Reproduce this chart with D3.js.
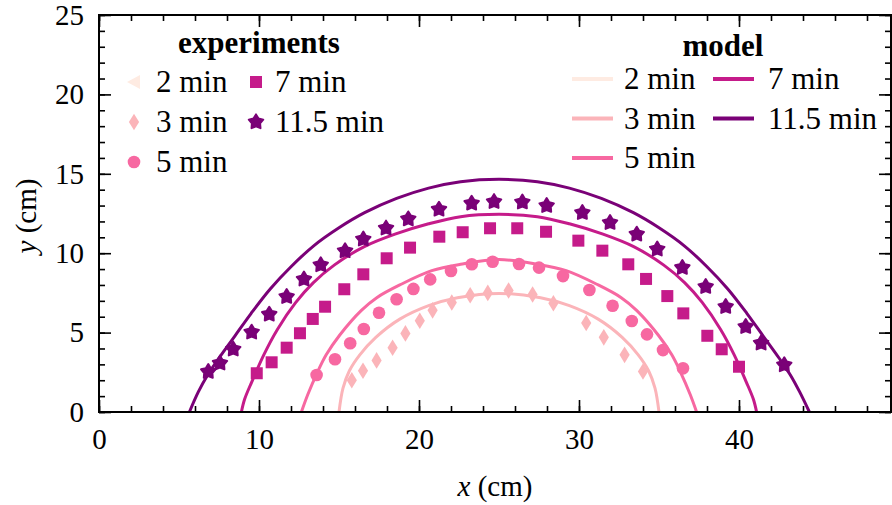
<!DOCTYPE html>
<html>
<head>
<meta charset="utf-8">
<script src="https://cdn.jsdelivr.net/npm/d3@7"></script>
<style>
  body { margin: 0; background: #fff; }
  svg text { font-family: "Liberation Serif", "Times New Roman", serif; fill: #000; }
</style>
</head>
<body>
<svg id="chart" width="892" height="505"></svg>
<script>
// legend / series labels and colours
var times = ['2 min', '3 min', '5 min', '7 min', '11.5 min'];
var colors = ['#feebe2', '#fbb4b9', '#f768a1', '#c51b8a', '#7a0177'];
var xTicks = [0, 10, 20, 30, 40];
var yTicks = [0, 5, 10, 15, 20, 25];

// experiments (2 min has no points in the plot)
var exp3X = [15.8, 16.5, 17.35, 18.35, 19.15, 20.05, 20.85, 22.05, 23.2, 24.3, 25.6, 27.1, 28.4, 30.45, 31.55, 32.85, 34.0];
var exp3Y = [2.0, 2.6, 3.25, 4.05, 4.95, 5.75, 6.4, 6.9, 7.35, 7.5, 7.65, 7.4, 6.85, 5.6, 4.7, 3.6, 2.55];
var exp5X = [13.6, 14.75, 15.7, 16.55, 17.5, 18.6, 19.65, 20.7, 22.0, 23.3, 24.6, 26.25, 27.5, 29.0, 30.65, 32.1, 33.3, 34.25, 35.25, 36.5];
var exp5Y = [2.33, 3.32, 4.33, 5.23, 6.25, 7.1, 7.75, 8.35, 8.88, 9.3, 9.46, 9.32, 9.09, 8.56, 7.68, 6.69, 5.73, 4.89, 3.9, 2.75];
var exp7X = [9.86, 10.79, 11.73, 12.56, 13.36, 14.13, 15.33, 16.52, 17.98, 19.44, 21.27, 22.73, 24.44, 26.14, 27.94, 29.96, 31.46, 33.08, 34.19, 35.52, 36.52, 38.02, 38.92, 40.0];
var exp7Y = [2.44, 3.13, 4.05, 4.96, 5.86, 6.63, 7.73, 8.67, 9.68, 10.35, 11.04, 11.32, 11.57, 11.57, 11.35, 10.79, 10.16, 9.3, 8.38, 7.3, 6.21, 4.8, 3.95, 2.85];
var exp11X = [6.83, 7.56, 8.39, 9.54, 10.64, 11.73, 12.81, 13.86, 15.38, 16.52, 17.94, 19.33, 21.25, 23.29, 24.69, 26.46, 27.98, 30.21, 31.94, 33.61, 34.89, 36.46, 37.92, 39.17, 40.42, 41.38, 42.83];
var exp11Y = [2.54, 3.07, 3.95, 5.02, 6.15, 7.26, 8.36, 9.26, 10.14, 10.88, 11.57, 12.15, 12.76, 13.14, 13.24, 13.21, 12.99, 12.55, 11.92, 11.19, 10.25, 9.09, 7.89, 6.63, 5.37, 4.33, 2.96];

// model curves
var mod3X = [15.0, 15.25, 15.65, 16.3, 17.3, 18.8, 20.6, 22.4, 25.0, 27.6, 29.4, 31.2, 32.7, 33.7, 34.35, 34.75, 35.0];
var mod3Y = [0, 1.5, 2.6, 3.6, 4.7, 5.85, 6.7, 7.2, 7.47, 7.2, 6.7, 5.85, 4.7, 3.6, 2.6, 1.5, 0];
var mod5X = [12.65, 13.05, 13.65, 14.2, 15.05, 16.4, 17.36, 18.8, 20.8, 22.6, 25.0, 27.4, 29.2, 31.2, 32.64, 33.6, 34.95, 35.8, 36.35, 36.95, 37.35];
var mod5Y = [0, 1.1, 2.5, 3.6, 4.85, 6.4, 7.2, 8.0, 8.9, 9.3, 9.6, 9.3, 8.9, 8.0, 7.2, 6.4, 4.85, 3.6, 2.5, 1.1, 0];
var mod7X = [8.9, 9.1, 9.55, 10.3, 11.15, 12.3, 13.4, 14.7, 16.55, 18.5, 20.6, 22.6, 25.0, 27.4, 29.4, 31.5, 33.45, 35.3, 36.6, 37.7, 38.85, 39.7, 40.45, 40.9, 41.1];
var mod7Y = [0, 0.8, 1.9, 3.6, 5.2, 6.9, 8.15, 9.25, 10.4, 11.2, 11.85, 12.3, 12.45, 12.3, 11.85, 11.2, 10.4, 9.25, 8.15, 6.9, 5.2, 3.6, 1.9, 0.8, 0];
var mod11X = [5.65, 6.2, 6.8, 7.5, 8.5, 9.5, 10.7, 12.0, 13.4, 15.0, 16.6, 18.6, 20.6, 22.6, 25.0, 27.4, 29.4, 31.4, 33.4, 35.0, 36.6, 38.0, 39.3, 40.5, 41.5, 42.5, 43.2, 43.8, 44.4];
var mod11Y = [0, 1.25, 2.35, 3.4, 4.8, 6.2, 7.75, 9.15, 10.45, 11.6, 12.55, 13.45, 14.1, 14.5, 14.65, 14.5, 14.1, 13.45, 12.55, 11.6, 10.45, 9.15, 7.75, 6.2, 4.8, 3.4, 2.35, 1.25, 0];

var svg = d3.select('#chart');
var pl = 99, pr = 891, pt = 15, pb = 412;

var x = d3.scaleLinear().domain([0, 49.5]).range([pl, pr]);
var y = d3.scaleLinear().domain([0, 25]).range([pb, pt]);

function zip(xs, ys) {
	return xs.map(function(v, i){ return [v, ys[i]]; });
}

// model lines
var line = d3.line()
	.x(function(d){ return x(d[0]); })
	.y(function(d){ return y(d[1]); })
	.curve(d3.curveCatmullRom.alpha(0.5));

var models = [
	{c: colors[1], pts: zip(mod3X, mod3Y)},
	{c: colors[2], pts: zip(mod5X, mod5Y)},
	{c: colors[3], pts: zip(mod7X, mod7Y)},
	{c: colors[4], pts: zip(mod11X, mod11Y)}
];
models.forEach(function(m){
	svg.append('path')
		.attr('d', line(m.pts))
		.attr('fill', 'none')
		.attr('stroke', m.c)
		.attr('stroke-width', 3);
});

// a fat five-pointed star, point up
function fatStar(R, r) {
	var p = d3.range(10).map(function(k){
		var a = -Math.PI / 2 + k * Math.PI / 5, rr = k % 2 ? r : R;
		return [rr * Math.cos(a), rr * Math.sin(a)];
	});
	return 'M' + p.join('L') + 'Z';
}

// marker shapes
var shapes = {
	tri: 'M-7,0L6,-7L6,7Z',
	diamond: 'M0,-8.3L5.1,0L0,8.3L-5.1,0Z',
	circle: d3.symbol(d3.symbolCircle, 125)(),
	square: d3.symbol(d3.symbolSquare, 144)(),
	star: fatStar(7.6, 4.3)
};
var markerOf = ['tri', 'diamond', 'circle', 'square', 'star'];

var exps = [
	{i: 1, pts: zip(exp3X, exp3Y)},
	{i: 2, pts: zip(exp5X, exp5Y)},
	{i: 3, pts: zip(exp7X, exp7Y)},
	{i: 4, pts: zip(exp11X, exp11Y)}
];
exps.forEach(function(e){
	svg.append('g').selectAll('path')
		.data(e.pts)
		.enter().append('path')
		.attr('d', shapes[markerOf[e.i]])
		.attr('transform', function(d){ return 'translate(' + x(d[0]) + ',' + y(d[1]) + ')'; })
		.attr('fill', colors[e.i])
		.attr('stroke', markerOf[e.i] === 'star' ? colors[e.i] : 'none')
		.attr('stroke-width', 2)
		.attr('stroke-linejoin', 'round');
});

// axes, ticks inward on all four sides
var xMinor = d3.range(0, 50, 2), yMinor = d3.range(0, 26, 1);

function ax(g, a) {
	g.call(a);
	g.select('.domain').remove();
	g.selectAll('line').attr('stroke', '#000').attr('stroke-width', 1.6);
	g.selectAll('text').attr('font-size', 29).attr('font-family', '"Liberation Serif", serif');
}

ax(svg.append('g').attr('transform', 'translate(0,' + pb + ')'),
	d3.axisBottom(x).tickValues(xTicks).tickSize(-12).tickPadding(16).tickFormat(d3.format('d')));
ax(svg.append('g').attr('transform', 'translate(0,' + pb + ')'),
	d3.axisBottom(x).tickValues(xMinor).tickSize(-6).tickFormat(''));
ax(svg.append('g').attr('transform', 'translate(0,' + pt + ')'),
	d3.axisTop(x).tickValues(xTicks).tickSize(-12).tickFormat(''));
ax(svg.append('g').attr('transform', 'translate(0,' + pt + ')'),
	d3.axisTop(x).tickValues(xMinor).tickSize(-6).tickFormat(''));
ax(svg.append('g').attr('transform', 'translate(' + pl + ',0)'),
	d3.axisLeft(y).tickValues(yTicks).tickSize(-12).tickPadding(15).tickFormat(d3.format('d')));
ax(svg.append('g').attr('transform', 'translate(' + pl + ',0)'),
	d3.axisLeft(y).tickValues(yMinor).tickSize(-6).tickFormat(''));
ax(svg.append('g').attr('transform', 'translate(' + pr + ',0)'),
	d3.axisRight(y).tickValues(yTicks).tickSize(-12).tickFormat(''));
ax(svg.append('g').attr('transform', 'translate(' + pr + ',0)'),
	d3.axisRight(y).tickValues(yMinor).tickSize(-6).tickFormat(''));

svg.append('rect')
	.attr('x', pl).attr('y', pt)
	.attr('width', pr - pl).attr('height', pb - pt)
	.attr('fill', 'none').attr('stroke', '#000').attr('stroke-width', 2);

// axis titles
var xt = svg.append('text').attr('x', 495).attr('y', 496).attr('text-anchor', 'middle').attr('font-size', 29);
xt.append('tspan').attr('font-style', 'italic').text('x');
xt.append('tspan').text(' (cm)');
var yt = svg.append('text').attr('transform', 'translate(36,216) rotate(-90)').attr('text-anchor', 'middle').attr('font-size', 29);
yt.append('tspan').attr('font-style', 'italic').text('y');
yt.append('tspan').text(' (cm)');

// legends
svg.append('text').attr('x', 259).attr('y', 53).attr('text-anchor', 'middle')
	.attr('font-size', 31).attr('font-weight', 'bold').text('experiments');
svg.append('text').attr('x', 723).attr('y', 56).attr('text-anchor', 'middle')
	.attr('font-size', 31).attr('font-weight', 'bold').text('model');

times.forEach(function(t, i){
	var col = i < 3 ? 0 : 1, row = i < 3 ? i : i - 3;
	// experiments legend
	var cy = 82 + row * 40;
	var mx = col ? 256 : 134, tx = col ? 275 : 156;
	svg.append('path')
		.attr('d', shapes[markerOf[i]])
		.attr('transform', 'translate(' + mx + ',' + cy + ')')
		.attr('fill', colors[i])
		.attr('stroke', markerOf[i] === 'star' ? colors[i] : 'none')
		.attr('stroke-width', 2).attr('stroke-linejoin', 'round');
	svg.append('text').attr('x', tx).attr('y', cy + 10).attr('font-size', 31).text(t);
	// model legend
	var ly = 79 + row * 39.5;
	var lx = col ? 713 : 572, ltx = col ? 768 : 624;
	svg.append('line')
		.attr('x1', lx).attr('x2', lx + 41).attr('y1', ly).attr('y2', ly)
		.attr('stroke', colors[i]).attr('stroke-width', 4);
	svg.append('text').attr('x', ltx).attr('y', ly + 10).attr('font-size', 31).text(t);
});
</script>
</body>
</html>
